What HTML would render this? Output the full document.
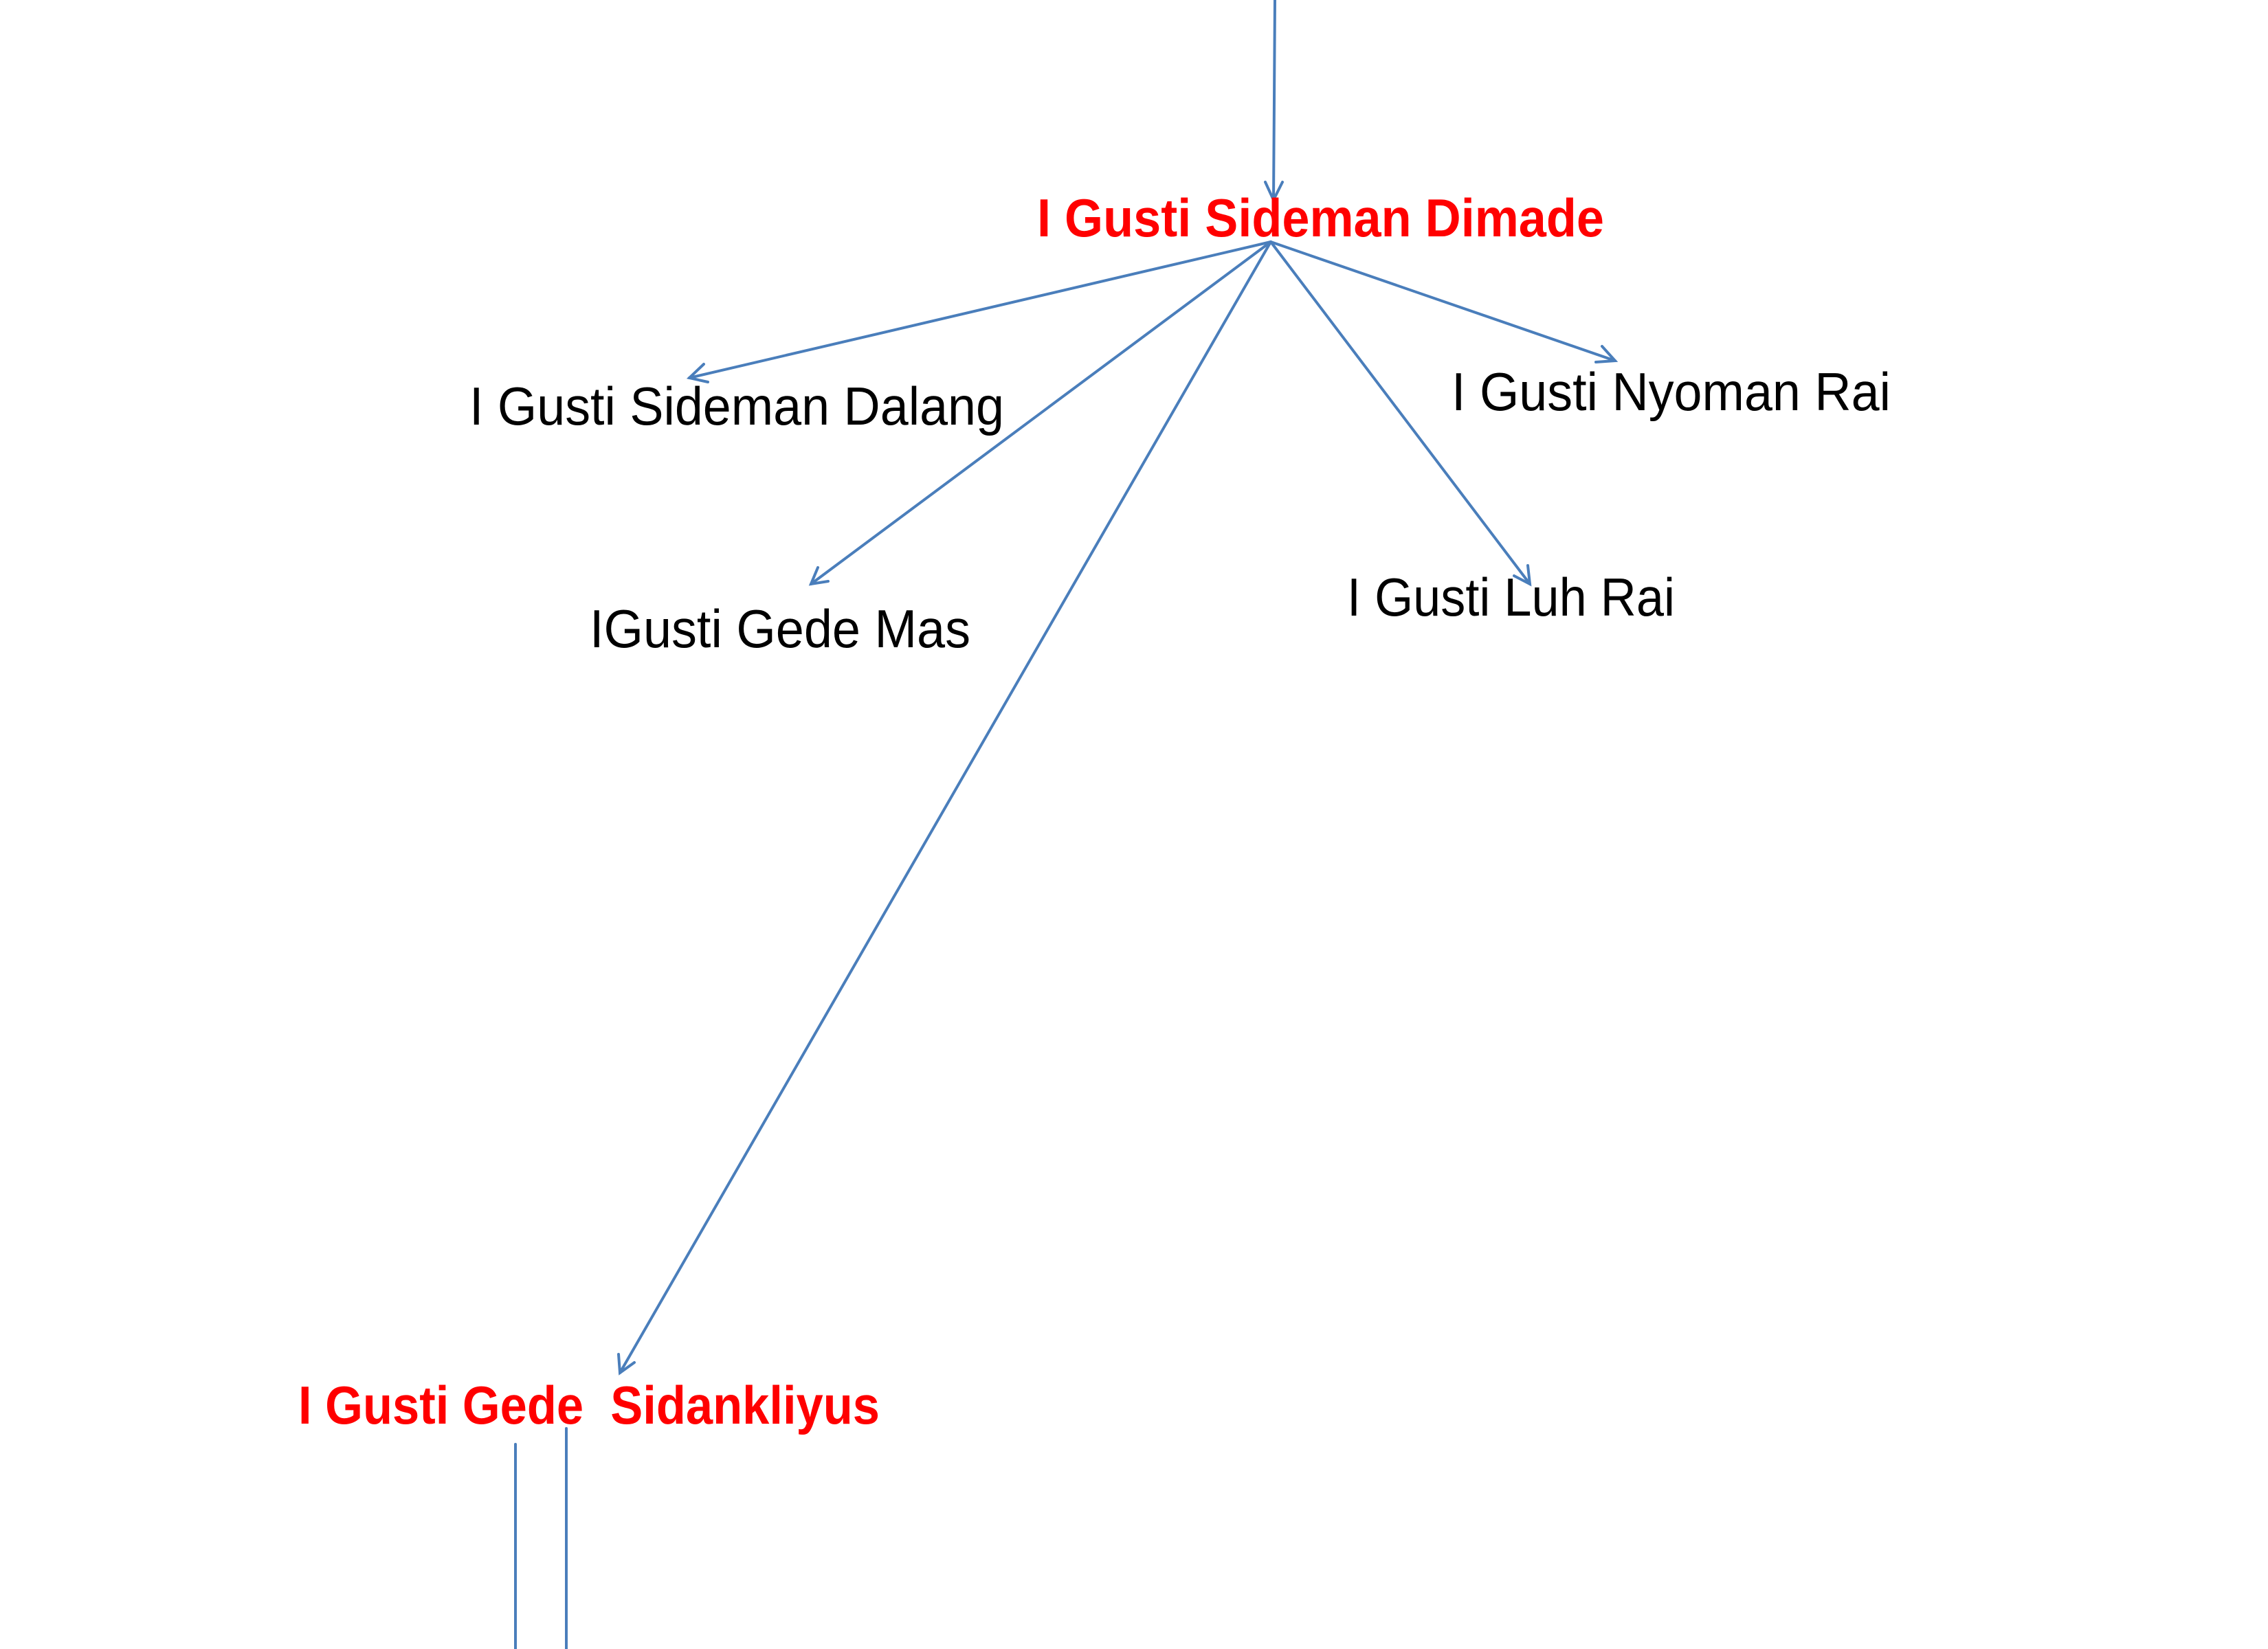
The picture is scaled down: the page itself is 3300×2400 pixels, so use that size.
<!DOCTYPE html>
<html><head><meta charset="utf-8"><style>
html,body{margin:0;padding:0;background:#fff;}
svg{display:block;}
text{font-family:"Liberation Sans",sans-serif;font-size:78px;}
.r{fill:#ff0000;font-weight:bold;}
.b{fill:#000;}
</style></head><body>
<svg width="3300" height="2400" viewBox="0 0 3300 2400" xmlns="http://www.w3.org/2000/svg">
<defs>
<marker id="a" markerWidth="12" markerHeight="12" refX="10" refY="6" orient="auto" markerUnits="userSpaceOnUse" viewBox="0 0 12 12">
</marker>
</defs>
<g stroke="#4a7ebb" stroke-width="4" fill="none" stroke-linecap="round">
<line x1="1855" y1="0" x2="1853" y2="291"/>
<line x1="1849" y1="352" x2="1003" y2="550"/>
<line x1="1849" y1="352" x2="1180" y2="850"/>
<line x1="1849" y1="352" x2="902" y2="1998"/>
<line x1="1849" y1="352" x2="2226" y2="850"/>
<line x1="1849" y1="352" x2="2350" y2="525"/>
<line x1="750" y1="2102" x2="750" y2="2400"/>
<line x1="824" y1="2079" x2="824" y2="2400"/>
<!-- arrowheads -->
<polyline points="1841,265 1853,291 1866,265"/>
<polyline points="1024,530 1003,550 1030,556"/>
<polyline points="1190,826 1180,850 1205,846"/>
<polyline points="900,1971 902,1998 923,1983"/>
<polyline points="2203,838 2226,850 2223,823"/>
<polyline points="2322,527 2350,525 2331,504"/>
</g>
<text class="r" x="1509" y="344" textLength="825" lengthAdjust="spacingAndGlyphs">I Gusti Sideman Dimade</text>
<text class="b" x="683" y="618" textLength="778" lengthAdjust="spacingAndGlyphs">I Gusti Sideman Dalang</text>
<text class="b" x="858" y="942" textLength="554" lengthAdjust="spacingAndGlyphs">IGusti Gede Mas</text>
<text class="b" x="1960" y="896" textLength="477" lengthAdjust="spacingAndGlyphs">I Gusti Luh Rai</text>
<text class="b" x="2112" y="597" textLength="639" lengthAdjust="spacingAndGlyphs">I Gusti Nyoman Rai</text>
<text class="r" x="434" y="2072" textLength="846" lengthAdjust="spacingAndGlyphs" xml:space="preserve">I Gusti Gede  Sidankliyus</text>
</svg>
</body></html>
